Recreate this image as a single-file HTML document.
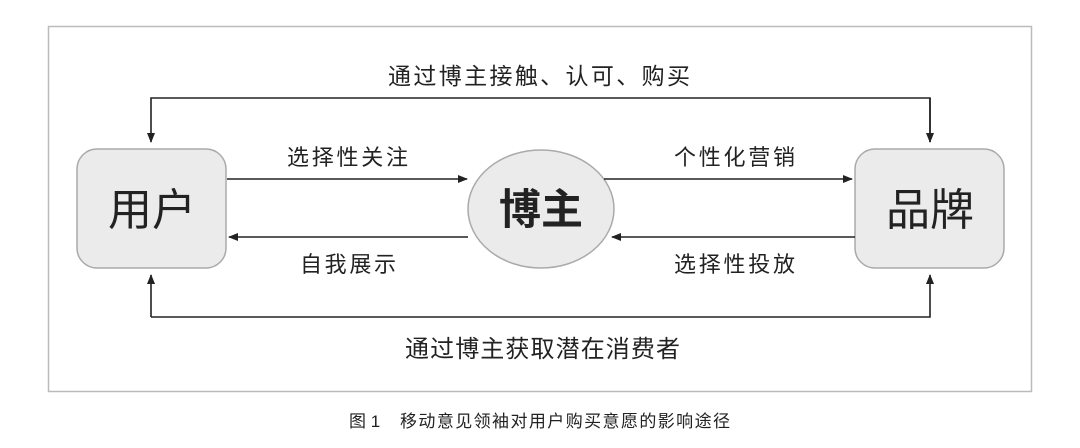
<!DOCTYPE html>
<html><head><meta charset="utf-8"><style>
html,body{margin:0;padding:0;background:#fff;width:1080px;height:448px;overflow:hidden}
svg text{font-family:"Liberation Sans","Noto Sans CJK SC",sans-serif;fill:#222}
</style></head><body>
<svg width="1080" height="448" viewBox="0 0 1080 448" xmlns="http://www.w3.org/2000/svg">
<defs><marker id="a" markerWidth="10" markerHeight="8" refX="9" refY="4" orient="auto" markerUnits="userSpaceOnUse"><path d="M0,0 L10,4 L0,8 z" fill="#222"/></marker></defs>
<rect x="48.5" y="26.5" width="983" height="365" fill="#fff" stroke="#bbb" stroke-width="1.5"/>
<rect x="77" y="149" width="149" height="119" rx="20" fill="#ebebeb" stroke="#aaa" stroke-width="1.5"/>
<rect x="855" y="149" width="149" height="119" rx="20" fill="#ebebeb" stroke="#aaa" stroke-width="1.5"/>
<ellipse cx="541" cy="209" rx="73" ry="59" fill="#ebebeb" stroke="#aaa" stroke-width="1.5"/>
<text x="152" y="225" font-size="44" text-anchor="middle">用户</text>
<text x="930" y="225" font-size="44" text-anchor="middle">品牌</text>
<text x="541" y="224" font-size="42" font-weight="bold" text-anchor="middle">博主</text>
<g stroke="#222" stroke-width="1.6" fill="none">
<path d="M930,142 V98 H151 V142" marker-end="url(#a)"/>
<path d="M930,98 V142" marker-end="url(#a)"/>
<path d="M151,317 H930 V275" marker-end="url(#a)"/>
<path d="M151,317 V275" marker-end="url(#a)"/>
<path d="M227,179 H467" marker-end="url(#a)"/>
<path d="M468,237 H229" marker-end="url(#a)"/>
<path d="M604,179 H852" marker-end="url(#a)"/>
<path d="M855,237 H612" marker-end="url(#a)"/>
</g>
<text x="388" y="84" font-size="23" textLength="302">通过博主接触、认可、购买</text>
<text x="287" y="165" font-size="22" textLength="121">选择性关注</text>
<text x="300" y="272" font-size="22" textLength="96">自我展示</text>
<text x="674" y="165" font-size="22" textLength="121">个性化营销</text>
<text x="674" y="272" font-size="22" textLength="121">选择性投放</text>
<text x="405" y="357" font-size="24" textLength="275">通过博主获取潜在消费者</text>
<text x="349" y="427" font-size="17" fill="#333">图 1</text>
<text x="400" y="427" font-size="17" fill="#333" textLength="330">移动意见领袖对用户购买意愿的影响途径</text>
</svg>
</body></html>
